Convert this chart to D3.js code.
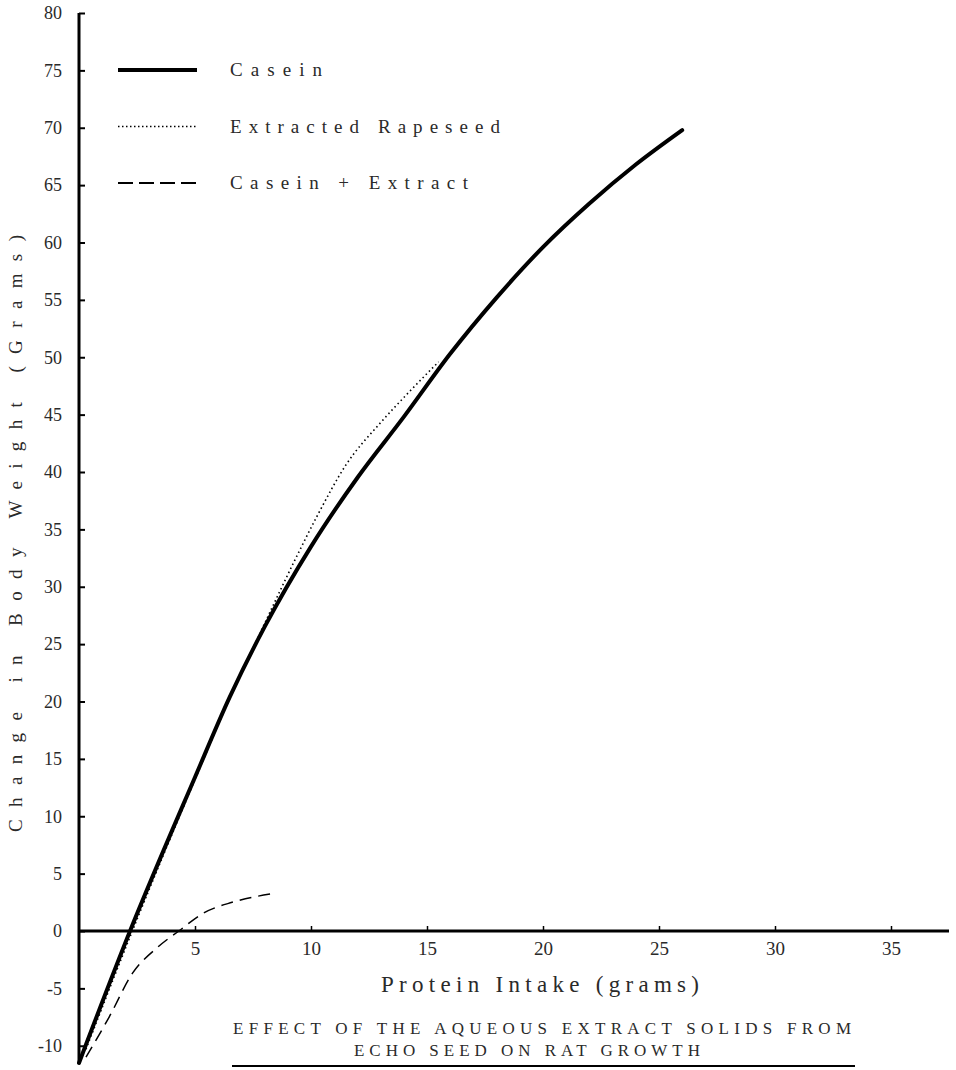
<!DOCTYPE html>
<html>
<head>
<meta charset="utf-8">
<script src="https://cdn.jsdelivr.net/npm/d3@7"></script>
<style>
  body { margin: 0; background: #fff; }
  text { font-family: "Liberation Serif", "DejaVu Serif", serif; fill: #2a2a2a; }
</style>
</head>
<body>
<script>
const w = 956;
const h = 1070;

// data
const caseinX = [0, 2.2, 5, 6.5, 8, 10, 12, 14, 16, 18, 20, 22, 24, 26];
const caseinY = [-11.5, 0, 13.4, 20.4, 26.5, 33.5, 39.5, 44.8, 50.3, 55.2, 59.6, 63.4, 66.8, 69.8];
const rapeX = [0.3, 2.3, 5, 6.5, 8, 9.3, 10.3, 11.5, 13, 14.1, 15.5];
const rapeY = [-10.3, 0, 13.2, 20.3, 26.8, 32.3, 36.3, 40.6, 44.3, 46.7, 49.6];
const mixX = [0.3, 1.3, 2.3, 3.4, 4.3, 5.4, 6.6, 8.5];
const mixY = [-11, -7.5, -3.7, -1.4, 0, 1.6, 2.5, 3.3];

const xTicks = [5, 10, 15, 20, 25, 30, 35];
const yTicks = [-10, -5, 0, 5, 10, 15, 20, 25, 30, 35, 40, 45, 50, 55, 60, 65, 70, 75, 80];

const seriesNames = ["Casein", "Extracted Rapeseed", "Casein + Extract"];

let svg = d3.select("body")
    .append("svg")
    .attr("width", w)
    .attr("height", h);

let x = d3.scaleLinear().domain([0, 35]).range([79, 891]);
let y = d3.scaleLinear().domain([0, 80]).range([931, 13]);

// axis lines
svg.append("line")
    .attr("x1", x(0)).attr("x2", x(0))
    .attr("y1", y(80)).attr("y2", y(-11.5))
    .attr("stroke", "#000").attr("stroke-width", 3);
svg.append("line")
    .attr("x1", x(0)).attr("x2", x(37.5))
    .attr("y1", y(0)).attr("y2", y(0))
    .attr("stroke", "#000").attr("stroke-width", 3);

// y ticks point right, labels on left
let yAxis = svg.append("g")
    .attr("transform", "translate(" + x(0) + ",0)")
    .call(d3.axisLeft(y).tickValues(yTicks).tickSizeInner(-6).tickSizeOuter(0).tickPadding(17)
        .tickFormat(d => d < 0 ? "-" + Math.abs(d) : d));
yAxis.select(".domain").remove();
yAxis.selectAll("line").attr("stroke", "#000").attr("stroke-width", 2);
yAxis.selectAll("text")
    .style("font-size", "18px")
    .attr("fill", "#333");

// x ticks point up, labels below
let xAxis = svg.append("g")
    .attr("transform", "translate(0," + y(0) + ")")
    .call(d3.axisBottom(x).tickValues(xTicks).tickSizeInner(-5).tickSizeOuter(0).tickPadding(11));
xAxis.select(".domain").remove();
xAxis.selectAll("line").attr("stroke", "#000").attr("stroke-width", 1.5);
xAxis.selectAll("text")
    .style("font-size", "19px")
    .attr("fill", "#333");

// curves
let line = d3.line()
    .x(d => x(d[0]))
    .y(d => y(d[1]))
    .curve(d3.curveMonotoneX);

let zip = (a, b) => a.map((v, i) => [v, b[i]]);

svg.append("path")
    .datum(zip(rapeX, rapeY))
    .attr("d", line)
    .attr("fill", "none")
    .attr("stroke", "#000")
    .attr("stroke-width", 1.6)
    .attr("stroke-dasharray", "1.5,3");

svg.append("path")
    .datum(zip(mixX, mixY))
    .attr("d", line)
    .attr("fill", "none")
    .attr("stroke", "#000")
    .attr("stroke-width", 1.5)
    .attr("stroke-dasharray", "12,7");

svg.append("path")
    .datum(zip(caseinX, caseinY))
    .attr("d", line)
    .attr("fill", "none")
    .attr("stroke", "#000")
    .attr("stroke-width", 4)
    .attr("stroke-linecap", "round");

// legend
let legendStyles = [
    { width: 4, dash: null },
    { width: 1.6, dash: "1.5,2.5" },
    { width: 1.8, dash: "15,6" }
];
let legendWidths = [92, 270, 238];
let legend = svg.selectAll(".legend")
    .data(seriesNames)
    .enter()
    .append("g")
    .attr("class", "legend")
    .attr("transform", (d, i) => "translate(0," + (70 + i * 56.5) + ")");
legend.append("line")
    .attr("x1", 118).attr("x2", 197)
    .attr("y1", 0).attr("y2", 0)
    .attr("stroke", "#000")
    .attr("stroke-width", (d, i) => legendStyles[i].width)
    .attr("stroke-dasharray", (d, i) => legendStyles[i].dash);
legend.append("text")
    .attr("x", 230)
    .attr("y", 6)
    .style("font-size", "19px")
    .attr("textLength", (d, i) => legendWidths[i])
    .attr("lengthAdjust", "spacing")
    .text(d => d);

// axis titles
svg.append("text")
    .attr("x", 381)
    .attr("y", 992)
    .style("font-size", "23px")
    .attr("textLength", 318)
    .attr("lengthAdjust", "spacing")
    .text("Protein Intake (grams)");

svg.append("text")
    .attr("transform", "translate(22,832) rotate(-90)")
    .style("font-size", "19px")
    .attr("fill", "#333")
    .attr("textLength", 597)
    .attr("lengthAdjust", "spacing")
    .text("Change in Body Weight (Grams)");

// caption
svg.append("text")
    .attr("x", 233)
    .attr("y", 1034)
    .style("font-size", "17px")
    .attr("textLength", 618)
    .attr("lengthAdjust", "spacing")
    .text("EFFECT OF THE AQUEOUS EXTRACT SOLIDS FROM");
svg.append("text")
    .attr("x", 354)
    .attr("y", 1056)
    .style("font-size", "17px")
    .attr("textLength", 346)
    .attr("lengthAdjust", "spacing")
    .text("ECHO SEED ON RAT GROWTH");
svg.append("line")
    .attr("x1", 232).attr("x2", 855)
    .attr("y1", 1066).attr("y2", 1066)
    .attr("stroke", "#000").attr("stroke-width", 2);
</script>
</body>
</html>
